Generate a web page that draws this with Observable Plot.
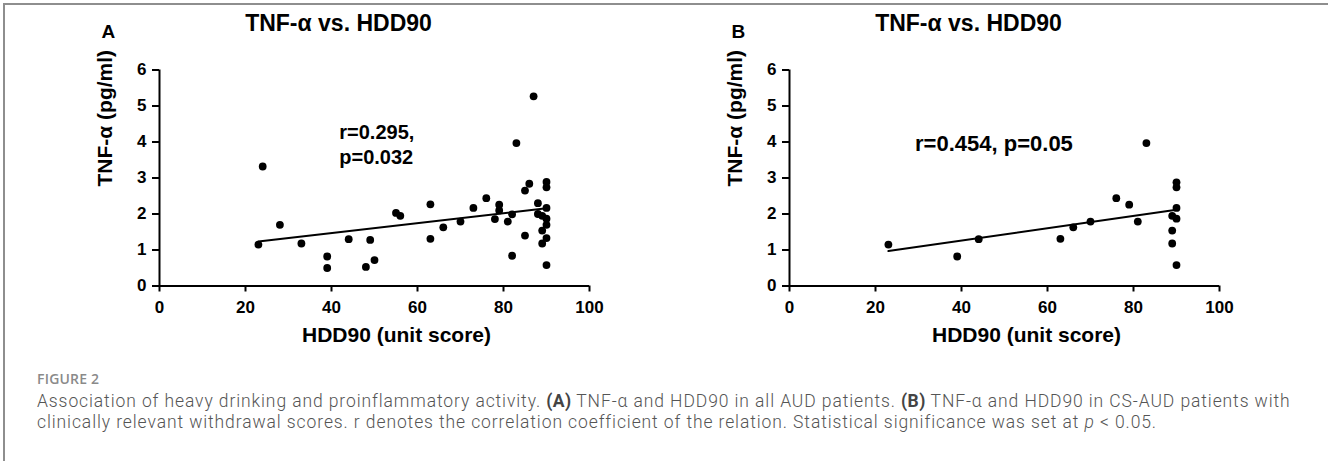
<!DOCTYPE html>
<html>
<head>
<meta charset="utf-8">
<script src="https://cdn.jsdelivr.net/npm/d3@7"></script>
<script src="https://cdn.jsdelivr.net/npm/@observablehq/plot@0.6"></script>
<style>
  html, body { margin: 0; padding: 0; background: #fff; }
  #page { position: relative; width: 1328px; height: 461px; overflow: hidden; background: #fff; }
  #frame { position: absolute; left: 3px; top: 3px; width: 1400px; height: 500px;
           border-left: 2px solid #8e8e8e; border-top: 2px solid #8e8e8e; }
  .panel { position: absolute; top: 0; }
  #figlabel { position: absolute; left: 37px; top: 369px; font-family: "Open Sans", sans-serif;
              font-weight: 600; font-size: 14px; color: #8a8a8a; letter-spacing: 0.2px; }
  .capline { position: absolute; left: 37px; font-family: Roboto, "Open Sans", sans-serif;
             font-weight: 300; font-size: 17.5px; letter-spacing: 0.9px; line-height: 21px; color: #555; white-space: nowrap; }
  .capline b { font-weight: 700; color: #444; letter-spacing: 0.4px; }
</style>
</head>
<body>
<div id="page">
  <div id="frame"></div>
  <div id="panelA" class="panel" style="left:0px"></div>
  <div id="panelB" class="panel" style="left:630px"></div>
  <div id="figlabel">FIGURE 2</div>
  <div class="capline" style="top:391px">Association of heavy drinking and proinflammatory activity. <b>(A)</b> TNF-α and HDD90 in all AUD patients. <b>(B)</b> TNF-α and HDD90 in CS-AUD patients with</div>
  <div class="capline" style="top:412px">clinically relevant withdrawal scores. r denotes the correlation coefficient of the relation. Statistical significance was set at <i>p</i> &lt; 0.05.</div>
</div>
<script>
// ---- Data ----
const xTicks = [0, 20, 40, 60, 80, 100];
const yTicks = [0, 1, 2, 3, 4, 5, 6];

// Panel A: all AUD patients
const hddA = [24, 23, 28, 33, 39, 39, 44, 48, 49, 50, 55, 56, 63, 63, 66, 70, 73, 76, 78, 79, 79, 81, 82, 82, 83, 85, 85, 86, 87, 88, 88, 89, 90, 90, 90, 90, 90, 89, 90, 89, 90];
const tnfA = [3.32, 1.15, 1.70, 1.18, 0.82, 0.50, 1.30, 0.53, 1.28, 0.72, 2.03, 1.95, 2.27, 1.31, 1.63, 1.79, 2.17, 2.44, 1.86, 2.26, 2.10, 1.79, 1.99, 0.84, 3.97, 1.40, 2.65, 2.84, 5.27, 2.30, 2.00, 1.95, 2.89, 2.74, 2.17, 1.87, 1.70, 1.54, 1.33, 1.18, 0.58];

// Panel B: CS-AUD patients with clinically relevant withdrawal scores
const hddB = [23, 39, 44, 63, 66, 70, 76, 79, 81, 83, 90, 90, 90, 90, 90, 89, 89, 89];
const tnfB = [1.15, 0.82, 1.30, 1.31, 1.63, 1.79, 2.44, 2.26, 1.79, 3.97, 2.88, 2.74, 2.17, 1.87, 0.58, 1.95, 1.54, 1.18];

const titles = ["TNF-α vs. HDD90", "TNF-α vs. HDD90"];
const letters = ["A", "B"];
const stats = ["r=0.295,\np=0.032", "r=0.454, p=0.05"];
const xLabel = "HDD90 (unit score)";
const yLabel = "TNF-α (pg/ml)";

function panel(xs, ys, title, letter, stat, statPos) {
  const data = xs.map((x, i) => ({x, y: ys[i]}));
  return Plot.plot({
    width: 630,
    height: 365,
    marginLeft: 159,
    marginRight: 41,
    marginTop: 69.5,
    marginBottom: 79.5,
    style: {fontFamily: "'Liberation Sans', Arial, sans-serif", fontWeight: "bold", background: "transparent", color: "black", overflow: "visible"},
    x: {domain: [0, 100]},
    y: {domain: [0, 6]},
    marks: [
      Plot.axisX({ticks: xTicks, tickSize: 6, tickPadding: 9, fontSize: 17, strokeWidth: 2, label: null, tickFormat: d => String(d)}),
      Plot.axisY({ticks: yTicks, tickSize: 7, tickPadding: 6, fontSize: 17, strokeWidth: 2, label: null, tickFormat: d => String(d)}),
      Plot.ruleX([0], {y1: 0, y2: 6, strokeWidth: 2}),
      Plot.ruleY([0], {x1: 0, x2: 100, strokeWidth: 2}),
      Plot.linearRegressionY(data, {x: "x", y: "y", stroke: "black", strokeWidth: 2, ci: 0}),
      Plot.dot(data, {x: "x", y: "y", r: 3.9, fill: "black", stroke: "none"}),
      Plot.text([yLabel], {frameAnchor: "left", rotate: -90, dx: -54, dy: 8.5, fontSize: 21, lineAnchor: "middle"}),
      Plot.text([xLabel], {frameAnchor: "bottom", dx: 22, dy: 49.5, fontSize: 21, lineAnchor: "middle"}),
      Plot.text([title], {frameAnchor: "top", dx: -36, dy: -46, fontSize: 23, lineAnchor: "middle"}),
      Plot.text([letter], {frameAnchor: "top-left", textAnchor: "start", dx: -58, dy: -38, fontSize: 19, lineAnchor: "middle"}),
      Plot.text([stat], {x: statPos[0], y: statPos[1], textAnchor: "start", lineAnchor: "middle", lineHeight: 1.25, fontSize: statPos[2]})
    ]
  });
}

document.getElementById("panelA").append(panel(hddA, tnfA, titles[0], letters[0], stats[0], [41.8, 3.97, 20]));
document.getElementById("panelB").append(panel(hddB, tnfB, titles[1], letters[1], stats[1], [29.2, 3.99, 22]));
</script>
</body>
</html>
